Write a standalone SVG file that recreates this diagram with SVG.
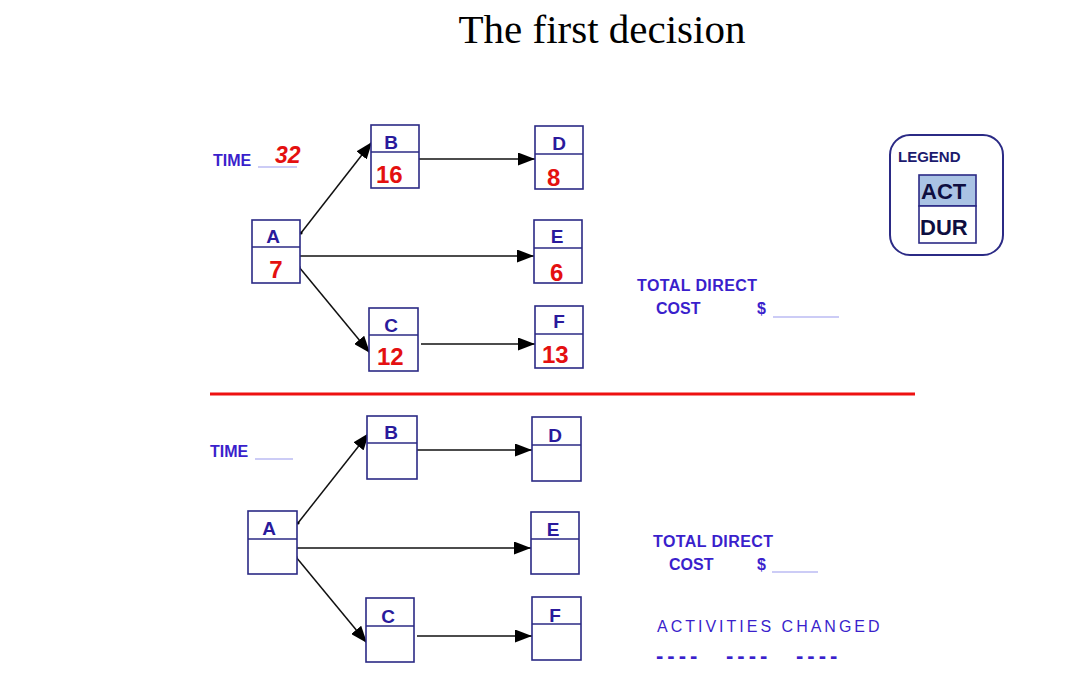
<svg xmlns="http://www.w3.org/2000/svg" width="1075" height="677" viewBox="0 0 1075 677">
<defs>
<style>
.box{fill:#fff;stroke:#2b2a85;stroke-width:1.6}
.div{stroke:#2b2a85;stroke-width:1.6}
.let{font-family:"Liberation Sans",Arial,sans-serif;font-weight:bold;font-size:19px;fill:#2a1a9c;text-anchor:middle}
.num{font-family:"Liberation Sans",Arial,sans-serif;font-weight:bold;font-size:24px;fill:#e41010}
.lbl{font-family:"Liberation Sans",Arial,sans-serif;font-weight:bold;font-size:16px;fill:#3a1fcc}
.ul{stroke:#9a9aee;stroke-width:1.2}
.arr{stroke:#111;stroke-width:1.5;fill:none;marker-end:url(#ah)}
.arrs{marker-start:url(#dot)}
.dash{font-family:"Liberation Sans",Arial,sans-serif;font-weight:bold;font-size:22px;letter-spacing:4px;fill:#3a1fcc}
</style>
<marker id="ah" viewBox="0 0 17 13" refX="17" refY="6.5" markerWidth="17" markerHeight="13" markerUnits="userSpaceOnUse" orient="auto">
<path d="M0,0 L17,6.5 L0,13 Z" fill="#000"/>
</marker>
<marker id="dot" viewBox="0 0 4 4" refX="2" refY="2" markerWidth="4" markerHeight="4" markerUnits="userSpaceOnUse">
<circle cx="2" cy="2" r="1.6" fill="#000"/>
</marker>
</defs>
<rect width="1075" height="677" fill="#fff"/>
<text x="602" y="43" font-family="Liberation Serif,'Times New Roman',serif" font-size="41" text-anchor="middle" fill="#000">The first decision</text>

<g id="connectors">
<line class="arr arrs" x1="301" y1="233" x2="372" y2="142"/>
<line class="arr" x1="300" y1="256" x2="534" y2="256"/>
<line class="arr arrs" x1="299" y1="267" x2="370" y2="353"/>
<line class="arr" x1="419" y1="159" x2="535" y2="159"/>
<line class="arr" x1="421" y1="344" x2="535" y2="344"/>
<line class="arr arrs" x1="298" y1="523" x2="369" y2="433"/>
<line class="arr" x1="297" y1="548" x2="531" y2="548"/>
<line class="arr arrs" x1="296" y1="557" x2="367" y2="643"/>
<line class="arr" x1="417" y1="450" x2="532" y2="450"/>
<line class="arr" x1="417" y1="636" x2="532" y2="636"/>
<line x1="210" y1="394" x2="915" y2="394" stroke="#ee1111" stroke-width="3.2"/>
</g>

<g id="top-labels">
<text class="lbl" x="213" y="166">TIME</text>
<line class="ul" x1="258" y1="167" x2="297" y2="167"/>
<text x="275" y="163" font-family="Liberation Sans,Arial,sans-serif" font-weight="bold" font-style="italic" font-size="23" fill="#e41010">32</text>
<text class="lbl" x="637" y="291" letter-spacing="0.4">TOTAL DIRECT</text>
<text class="lbl" x="656" y="314">COST</text>
<text class="lbl" x="757" y="314" font-size="13">$</text>
<line class="ul" x1="773" y1="317" x2="839" y2="317"/>
</g>

<g id="nodeA1"><rect class="box" x="252" y="220" width="48" height="63"/><line class="div" x1="252" y1="247" x2="300" y2="247"/><text class="let" x="273" y="243">A</text><text class="num" x="276" y="278" text-anchor="middle">7</text></g>
<g id="nodeB1"><rect class="box" x="371" y="125" width="48" height="63"/><line class="div" x1="371" y1="152" x2="419" y2="152"/><text class="let" x="391" y="149">B</text><text class="num" x="376" y="183">16</text></g>
<g id="nodeC1"><rect class="box" x="369" y="308" width="49" height="63"/><line class="div" x1="369" y1="335" x2="418" y2="335"/><text class="let" x="391" y="332">C</text><text class="num" x="377" y="365">12</text></g>
<g id="nodeD1"><rect class="box" x="535" y="126" width="48" height="63"/><line class="div" x1="535" y1="154" x2="583" y2="154"/><text class="let" x="559" y="150">D</text><text class="num" x="547" y="186">8</text></g>
<g id="nodeE1"><rect class="box" x="534" y="220" width="48" height="63"/><line class="div" x1="534" y1="248" x2="582" y2="248"/><text class="let" x="557" y="243">E</text><text class="num" x="550" y="281">6</text></g>
<g id="nodeF1"><rect class="box" x="535" y="306" width="48" height="62"/><line class="div" x1="535" y1="334" x2="583" y2="334"/><text class="let" x="559" y="328">F</text><text class="num" x="542" y="363">13</text></g>

<g id="legend">
<rect x="890" y="135" width="113" height="120" rx="20" ry="20" fill="#fff" stroke="#2b2a85" stroke-width="2"/>
<text x="898" y="162" font-family="Liberation Sans,Arial,sans-serif" font-weight="bold" font-size="15" fill="#1c1a6e">LEGEND</text>
<rect x="919" y="175" width="57" height="31" fill="#aac3e4" stroke="#2b2a85" stroke-width="1.6"/>
<rect x="919" y="206" width="57" height="37" fill="#fff" stroke="#2b2a85" stroke-width="1.6"/>
<text x="921" y="199" font-family="Liberation Sans,Arial,sans-serif" font-weight="bold" font-size="22" fill="#0e0e40">ACT</text>
<text x="920" y="235" font-family="Liberation Sans,Arial,sans-serif" font-weight="bold" font-size="22" fill="#0e0e40">DUR</text>
</g>

<g id="bottom-labels">
<text class="lbl" x="210" y="457">TIME</text>
<line class="ul" x1="255" y1="459" x2="293" y2="459"/>
<text class="lbl" x="653" y="547" letter-spacing="0.4">TOTAL DIRECT</text>
<text class="lbl" x="669" y="570">COST</text>
<text class="lbl" x="757" y="570" font-size="13">$</text>
<line class="ul" x1="772" y1="572" x2="818" y2="572"/>
<text x="657" y="632" font-family="Liberation Sans,Arial,sans-serif" font-size="16" letter-spacing="3" fill="#3a1fcc">ACTIVITIES CHANGED</text>
<text class="dash" x="656" y="663">----</text>
<text class="dash" x="726" y="663">----</text>
<text class="dash" x="796" y="663">----</text>
</g>

<g id="nodeA2"><rect class="box" x="248" y="511" width="49" height="63"/><line class="div" x1="248" y1="539" x2="297" y2="539"/><text class="let" x="269" y="535">A</text></g>
<g id="nodeB2"><rect class="box" x="367" y="416" width="50" height="63"/><line class="div" x1="367" y1="443" x2="417" y2="443"/><text class="let" x="391" y="439">B</text></g>
<g id="nodeC2"><rect class="box" x="366" y="598" width="48" height="64"/><line class="div" x1="366" y1="626" x2="414" y2="626"/><text class="let" x="388" y="623">C</text></g>
<g id="nodeD2"><rect class="box" x="532" y="417" width="49" height="64"/><line class="div" x1="532" y1="445" x2="581" y2="445"/><text class="let" x="555" y="442">D</text></g>
<g id="nodeE2"><rect class="box" x="531" y="512" width="48" height="62"/><line class="div" x1="531" y1="539" x2="579" y2="539"/><text class="let" x="553" y="536">E</text></g>
<g id="nodeF2"><rect class="box" x="532" y="597" width="49" height="63"/><line class="div" x1="532" y1="624" x2="581" y2="624"/><text class="let" x="555" y="622">F</text></g>
</svg>
